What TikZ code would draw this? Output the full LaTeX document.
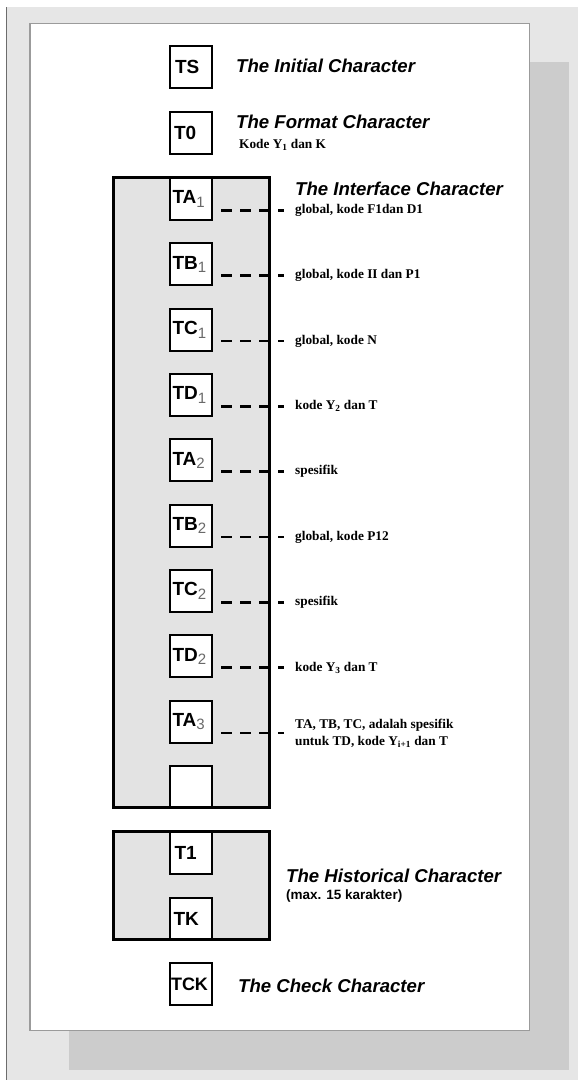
\documentclass[tikz,border=0pt]{standalone}
\usepackage{fontspec}
\setmainfont{Liberation Serif}
\setsansfont{Liberation Sans}
\usetikzlibrary{positioning}
\definecolor{bgGrey}{RGB}{230,230,230}
\definecolor{shGrey}{RGB}{204,204,204}
\definecolor{edgeGrey}{RGB}{155,155,155}
\definecolor{frGrey}{RGB}{227,227,227}
\definecolor{subGrey}{RGB}{105,105,105}
\tikzset{
  cell/.style={rectangle, draw=black, line width=2pt, fill=white,
               minimum height=42pt, text width=37pt, inner xsep=2.5pt,
               inner ysep=0pt, align=left,
               font=\sffamily\bfseries\fontsize{19}{19}\selectfont},
  grpfill/.style={fill=frGrey},
  grpline/.style={draw=black, line width=3pt},
  ttl/.style={anchor=base west, inner sep=0pt,
              font=\sffamily\bfseries\itshape\fontsize{18.6}{20}\selectfont},
  note/.style={anchor=west, inner sep=0pt, align=left,
               font=\bfseries\fontsize{13.3}{17}\selectfont},
  link/.style={draw=black, line width=2.6pt,
               dash pattern=on 11pt off 8pt, dash phase=11pt, shorten >=11pt},
}
\newcommand{\gsub}[1]{\raisebox{-3.5pt}{\mdseries\fontsize{15}{15}\selectfont\color{subGrey}#1}}

\begin{document}
\begin{tikzpicture}[x=1pt, y=-1pt]
  \useasboundingbox (0,0) rectangle (578,1080);
  % sheet, shadow and page
  \fill[bgGrey] (7,7) rectangle (578,1080);
  \draw[edgeGrey!70!black, line width=1.4pt] (6.6,7) -- (6.6,1080);
  \fill[shGrey] (69,62) rectangle (569,1070);
  \filldraw[fill=white, draw=edgeGrey, line width=1.6pt] (30,23.5) rectangle (529.5,1030.5);

  % group backgrounds
  \path[grpfill] (113.5,177.5) rectangle (269.5,807.5);
  \path[grpfill] (113.5,831.5) rectangle (269.5,939.5);

  % single characters
  \node[cell] (ts) at (190.5,66.5) {\hspace{3pt}TS};
  \node[cell] (t0) at (190.5,133) {\hspace{2pt}T0};
  \node[ttl] (tinit) at (236,72) {The Initial Character};
  \node[ttl] (tfmt) at (236,128) {The Format Character};
  \node[note, anchor=base west] (nt0) at (239,148) {Kode Y\textsubscript{1} dan K};

  % interface characters
  \foreach \nm/\a/\b/\txt [count=\k from 0] in {%
      ta1/TA/1/{global, kode F1dan D1},
      tb1/TB/1/{global, kode II dan P1},
      tc1/TC/1/{global, kode N},
      td1/TD/1/{kode Y\textsubscript{2} dan T},
      ta2/TA/2/{spesifik},
      tb2/TB/2/{global, kode P12},
      tc2/TC/2/{spesifik},
      td2/TD/2/{kode Y\textsubscript{3} dan T},
      ta3/TA/3/{TA, TB, TC, adalah spesifik\\untuk TD, kode Y\textsubscript{i+1} dan T}} {
    \node[cell] (\nm) at (191,199+65.33*\k) {\a\gsub{\b}};
    \node[note] (n\nm) at (295,210.3+65.33*\k) {\txt};
    \draw[link] (\nm.east |- n\nm.west) -- (n\nm.west);
  }
  \node[cell] (tx) at (191,787) {};
  \node[ttl] (tintf) at (295,195) {The Interface Character};

  % historical characters
  \node[cell] (t1) at (191,852.5) {\hspace{2pt}T1};
  \node[cell] (tk) at (191,918.5) {\hspace{1pt}TK};
  \node[ttl] (thist) at (286,882) {The Historical Character};
  \node[ttl, font=\sffamily\bfseries\fontsize{13.5}{14}\selectfont] (tmax) at (286,899) {(max. 15 karakter)};

  % group outlines on top
  \path[grpline] (113.5,177.5) rectangle (269.5,807.5);
  \path[grpline] (113.5,831.5) rectangle (269.5,939.5);

  % check character
  \node[cell, font=\sffamily\bfseries\fontsize{18}{19}\selectfont] (tck) at (191,984) {\hspace{-1.5pt}TCK};
  \node[ttl] (tchk) at (238,992) {The Check Character};
\end{tikzpicture}
\end{document}
